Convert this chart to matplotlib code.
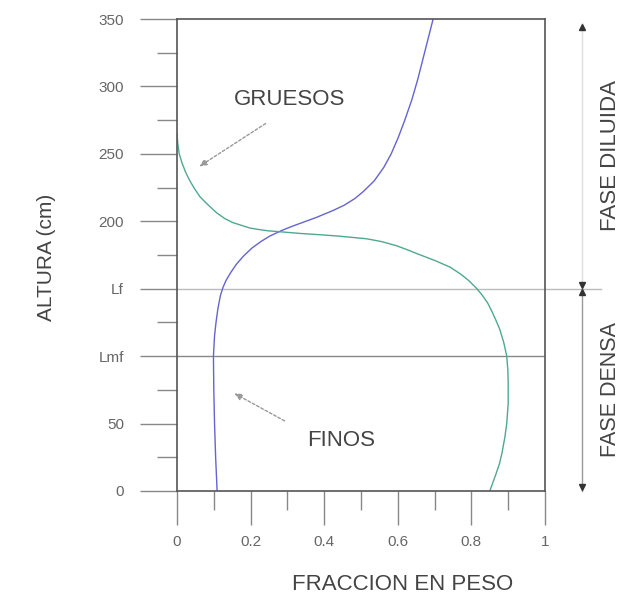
import matplotlib
matplotlib.use("Agg")
import matplotlib.pyplot as plt

plt.rcParams['font.family'] = ['Liberation Sans', 'DejaVu Sans']

# ---- data ----
finos_altura = [0, 25, 50, 75, 100, 115, 125, 135, 145, 151, 156, 162, 168, 174, 180, 185, 189,
                193, 196, 199, 203, 208, 212, 217, 222, 230, 240, 250, 262, 275, 290, 305, 320, 335, 350]
finos_fraccion = [0.109, 0.105, 0.102, 0.100, 0.099, 0.102, 0.106, 0.111, 0.118, 0.125, 0.133, 0.146,
                  0.161, 0.180, 0.203, 0.228, 0.252, 0.283, 0.310, 0.340, 0.380, 0.424, 0.455, 0.484,
                  0.506, 0.536, 0.562, 0.582, 0.601, 0.619, 0.638, 0.654, 0.668, 0.682, 0.696]

gruesos_altura = [265, 258, 250, 243, 236, 230, 224, 218, 212, 206, 202, 199, 197, 195, 194, 193, 192,
                  191, 190, 189, 187, 185, 182, 179, 176, 171, 166, 161, 156, 150, 145, 139, 133, 127,
                  120, 110, 100, 90, 80, 65, 50, 40, 28, 20, 12, 6, 0]
gruesos_fraccion = [0.000, 0.002, 0.006, 0.014, 0.024, 0.035, 0.048, 0.063, 0.085, 0.109, 0.130, 0.152,
                    0.175, 0.198, 0.220, 0.245, 0.290, 0.334, 0.390, 0.440, 0.516, 0.555, 0.595, 0.625,
                    0.652, 0.700, 0.742, 0.770, 0.793, 0.815, 0.830, 0.845, 0.856, 0.866, 0.877, 0.888,
                    0.896, 0.899, 0.900, 0.900, 0.896, 0.891, 0.883, 0.876, 0.866, 0.858, 0.850]

y_ticks = [0, 50, 100, 150, 200, 250, 300, 350]
y_tick_labels = ['0', '50', 'Lmf', 'Lf', '200', '250', '300', '350']
y_minor = [25, 75, 125, 175, 225, 275, 325]
x_ticks = [0, 0.2, 0.4, 0.6, 0.8, 1.0]
x_tick_labels = ['0', '0.2', '0.4', '0.6', '0.8', '1']
x_minor = [0.1, 0.3, 0.5, 0.7, 0.9]
Lmf = 100
Lf = 150

W, H = 622, 599
fig = plt.figure(figsize=(W / 100, H / 100), dpi=100)
ax = fig.add_axes([177 / W, 1 - 491 / H, 368 / W, 472 / H])
ax.set_xlim(0, 1)
ax.set_ylim(0, 350)

for s in ax.spines.values():
    s.set_color('#555555')
    s.set_linewidth(1.2)

ax.set_yticks(y_ticks)
ax.set_yticklabels(y_tick_labels)
ax.set_yticks(y_minor, minor=True)
ax.set_xticks(x_ticks)
ax.set_xticklabels(x_tick_labels)
ax.set_xticks(x_minor, minor=True)

ax.tick_params(axis='y', which='major', length=26.6, width=1.0, color='#888888',
               pad=11.5, labelsize=11, labelcolor='#666666')
ax.tick_params(axis='y', which='minor', length=14.4, width=1.0, color='#888888')
ax.tick_params(axis='x', which='major', length=24.5, width=1.0, color='#888888',
               pad=7, labelsize=11, labelcolor='#666666')
ax.tick_params(axis='x', which='minor', length=13.7, width=1.0, color='#888888')

# reference lines
ax.axhline(Lmf, color='#888888', lw=1.0)
ax.plot([0, 1.152], [Lf, Lf], color='#bbbbbb', lw=1.0, clip_on=False)

# curves
ax.plot(finos_fraccion, finos_altura, color='#6464d2', lw=1.0)
ax.plot(gruesos_fraccion, gruesos_altura, color='#4fa890', lw=1.0)

# labels with arrows
ax.text(0.307, 290, 'GRUESOS', fontsize=16, color='#444444', ha='center', va='center')
ax.annotate('', xy=(0.054, 239.5), xytext=(0.247, 273.6),
            arrowprops=dict(arrowstyle='-|>,head_length=0.45,head_width=0.2',
                            color='#999999', lw=1.0, linestyle=(0, (2, 1.5))))
ax.text(0.446, 37.8, 'FINOS', fontsize=16, color='#444444', ha='center', va='center')
ax.annotate('', xy=(0.149, 73.4), xytext=(0.299, 51),
            arrowprops=dict(arrowstyle='-|>,head_length=0.45,head_width=0.2',
                            color='#999999', lw=1.0, linestyle=(0, (2, 1.5))))

# phase brackets on the right
xb = 1.1005
ax.plot([xb, xb], [Lf, 347], color='#dddddd', lw=1.0, clip_on=False)
ax.plot([xb, xb], [0, Lf], color='#999999', lw=1.0, clip_on=False)
ms = 5
off = 2.6
ax.plot([xb], [347 - off], marker='^', ms=ms, color='#333333', clip_on=False, ls='none')
ax.plot([xb], [Lf + off], marker='v', ms=ms, color='#333333', clip_on=False, ls='none')
ax.plot([xb], [Lf - off], marker='^', ms=ms, color='#333333', clip_on=False, ls='none')
ax.plot([xb], [0 + off], marker='v', ms=ms, color='#333333', clip_on=False, ls='none')

ax.text(1.179, 249, 'FASE DILUIDA', rotation=90, fontsize=16, color='#444444',
        ha='center', va='center', clip_on=False)
ax.text(1.179, 75, 'FASE DENSA', rotation=90, fontsize=15.5, color='#444444',
        ha='center', va='center', clip_on=False)

fig.text(47 / W, 1 - 257 / H, 'ALTURA (cm)', rotation=90, fontsize=15, color='#444444',
         ha='center', va='center')
fig.text(403 / W, 1 - 584 / H, 'FRACCION EN PESO', fontsize=16, color='#444444',
         ha='center', va='center')

fig.savefig('out.png', dpi=100)
